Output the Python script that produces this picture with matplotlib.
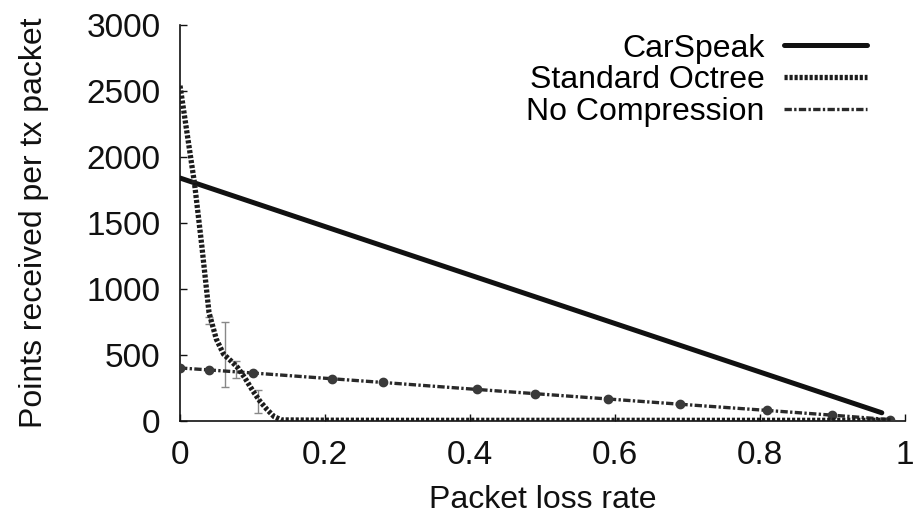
import matplotlib
matplotlib.use("Agg")
import matplotlib.pyplot as plt

plt.rcParams['font.family'] = ['Liberation Sans', 'DejaVu Sans']

# CarSpeak
car_x = [0.0, 0.262, 0.5, 0.75, 0.968]
car_y = [1840, 1358, 921, 461, 60]

# Standard Octree
oct_x = [0.0, 0.01, 0.02, 0.03, 0.04, 0.05, 0.06, 0.07, 0.08, 0.09, 0.10, 0.11, 0.12,
         0.13, 0.14, 0.2, 0.3, 0.4, 0.5, 0.6, 0.7, 0.8, 0.9, 0.98]
oct_y = [2540, 2170, 1800, 1330, 820, 620, 505, 455, 400, 320, 230, 150, 85,
         30, 6, 4, 3, 3, 3, 3, 3, 3, 3, 3]
err_x = [0.04, 0.062, 0.077, 0.108]
err_y = [760, 505, 387, 145]
err_lo = [30, 246, 62, 87]
err_hi = [30, 247, 62, 88]

# No Compression
nc_x = [0.0, 0.04, 0.10, 0.21, 0.28, 0.41, 0.49, 0.59, 0.69, 0.81, 0.90, 0.98]
nc_y = [400, 385, 362, 318, 290, 237, 205, 165, 125, 78, 42, 8]

xticks = [0, 0.2, 0.4, 0.6, 0.8, 1]
xtick_labels = ['0', '0.2', '0.4', '0.6', '0.8', '1']
yticks = [0, 500, 1000, 1500, 2000, 2500, 3000]

fig = plt.figure(figsize=(9.17, 5.18), dpi=100)
ax = fig.add_axes([0.1963, 0.1878, 0.7906, 0.7639])

ax.errorbar(err_x, err_y, yerr=[err_lo, err_hi], fmt='none', ecolor='#888888',
            elinewidth=1.0, capsize=3, capthick=1.0, zorder=2)
l1, = ax.plot(car_x, car_y, color='#111111', lw=3.6, solid_capstyle='round',
              label='CarSpeak', zorder=3)
l2, = ax.plot(oct_x, oct_y, color='#1c1c1c', lw=3.8, linestyle=(0, (0.6, 0.35)),
              label='Standard Octree', zorder=4)
l3, = ax.plot(nc_x, nc_y, color='#2a2a2a', lw=2.4, linestyle=(0, (2.2, 0.7, 0.7, 0.7)),
              marker='o', markersize=6, markerfacecolor='#3a3a3a', markeredgecolor='#3a3a3a',
              label='No Compression', zorder=3)

ax.set_xlim(0, 1)
ax.set_ylim(0, 3000)
ax.set_xticks(xticks)
ax.set_xticklabels(xtick_labels)
ax.set_yticks(yticks)
ax.spines['top'].set_visible(False)
ax.spines['right'].set_visible(False)
for s in ('left', 'bottom'):
    ax.spines[s].set_linewidth(1.2)
    ax.spines[s].set_color('#111111')
ax.tick_params(axis='both', direction='in', length=5, width=1.0, labelsize=24,
               colors='#111111', pad=14)

ax.set_xlabel('Packet loss rate', fontsize=23, labelpad=10, color='#111111')
ax.set_ylabel('Points received per tx packet', fontsize=23, labelpad=27, color='#111111')

leg = ax.legend(handles=[l1, l2, l3], loc='upper right', bbox_to_anchor=(0.978, 1.035),
                frameon=False, markerfirst=False, fontsize=23, handlelength=2.6,
                handletextpad=0.6, labelspacing=0.05, borderpad=0.2)
for t in leg.get_texts():
    t.set_ha('right')
for h in leg.legend_handles:
    h.set_marker('')

fig.savefig('out.png', dpi=100)
